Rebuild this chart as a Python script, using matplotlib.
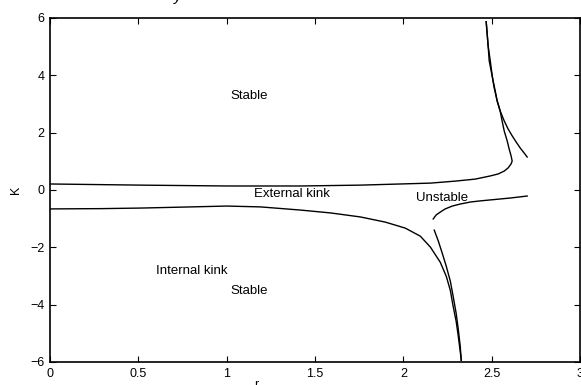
import matplotlib
matplotlib.use('Agg')
import matplotlib.pyplot as plt

plt.rcParams['font.family'] = ['Liberation Sans', 'DejaVu Sans']
plt.rcParams['axes.unicode_minus'] = True

# upper boundary (external kink, top) with hook
r_upper = [0.0, 0.514, 1.0, 1.418, 1.757, 1.983, 2.153, 2.294, 2.407, 2.492, 2.537,
           2.571, 2.593, 2.610, 2.616, 2.610, 2.599, 2.588, 2.571, 2.559, 2.548,
           2.531, 2.520, 2.508, 2.497, 2.486, 2.480, 2.469]
K_upper = [0.21, 0.17, 0.14, 0.14, 0.17, 0.21, 0.24, 0.31, 0.38, 0.49, 0.56,
           0.66, 0.77, 0.91, 1.01, 1.19, 1.43, 1.71, 2.06, 2.41, 2.76,
           3.11, 3.46, 3.81, 4.16, 4.51, 5.03, 5.87]

# second branch near the top right
r_branch = [2.469, 2.480, 2.492, 2.503, 2.514, 2.531, 2.548, 2.571, 2.593, 2.616,
            2.638, 2.661, 2.684, 2.701]
K_branch = [5.87, 5.03, 4.51, 3.99, 3.57, 3.11, 2.76, 2.41, 2.13, 1.89,
            1.68, 1.47, 1.29, 1.15]

# lower boundary (external kink bottom / internal kink)
r_lower = [0.0, 0.288, 0.514, 0.797, 1.0, 1.192, 1.418, 1.588, 1.757, 1.898, 2.011,
           2.096, 2.153, 2.209, 2.243, 2.266, 2.282, 2.299, 2.311, 2.322, 2.328]
K_lower = [-0.66, -0.65, -0.63, -0.59, -0.56, -0.59, -0.70, -0.80, -0.94, -1.12, -1.33,
           -1.61, -1.99, -2.52, -3.01, -3.50, -4.06, -4.58, -5.10, -5.63, -5.94]

# short branch going down to the bottom
r_down = [2.175, 2.198, 2.220, 2.243, 2.266, 2.282, 2.299, 2.311, 2.322, 2.328]
K_down = [-1.40, -1.78, -2.20, -2.66, -3.18, -3.71, -4.30, -4.86, -5.45, -5.94]

# unstable branch
r_unst = [2.169, 2.186, 2.209, 2.237, 2.277, 2.322, 2.379, 2.435, 2.520, 2.605, 2.701]
K_unst = [-1.01, -0.87, -0.77, -0.66, -0.56, -0.49, -0.42, -0.38, -0.33, -0.28, -0.21]

labels = ['Stable', 'External kink', 'Unstable', 'Internal kink', 'Stable']
label_r = [1.13, 1.37, 2.22, 0.80, 1.13]
label_K = [3.29, -0.14, -0.28, -2.83, -3.53]

fig = plt.figure(figsize=(5.81, 3.85), dpi=100)
ax = fig.add_axes([50/581, 23/385, 530/581, 344/385])

for xs, ys in [(r_upper, K_upper), (r_branch, K_branch), (r_lower, K_lower),
               (r_down, K_down), (r_unst, K_unst)]:
    ax.plot(xs, ys, color='black', lw=1.0)

for t, x, y in zip(labels, label_r, label_K):
    ax.text(x, y, t, fontsize=9.5, ha='center', va='center')

ax.set_xlim(0, 3)
ax.set_ylim(-6, 6)
ax.set_xticks([0, 0.5, 1, 1.5, 2, 2.5, 3])
ax.set_xticklabels(['0', '0.5', '1', '1.5', '2', '2.5', '3'])
ax.set_yticks([-6, -4, -2, 0, 2, 4, 6])
ax.tick_params(direction='in', top=True, right=True, labelsize=9, length=4, width=0.8)
ax.tick_params(axis='x', pad=4)
ax.tick_params(axis='y', pad=4)
for s in ax.spines.values():
    s.set_linewidth(1.2)
ax.set_ylabel('K', fontsize=9, labelpad=6)

# cut-off labels at the figure edges
fig.text(256/581, 1 - 379/385, 'r', fontsize=9, va='top', ha='center')
fig.text(178/581, 1 - 1/385, 'y', fontsize=11, style='italic', va='baseline', ha='center')

fig.savefig('out.png', dpi=100)
